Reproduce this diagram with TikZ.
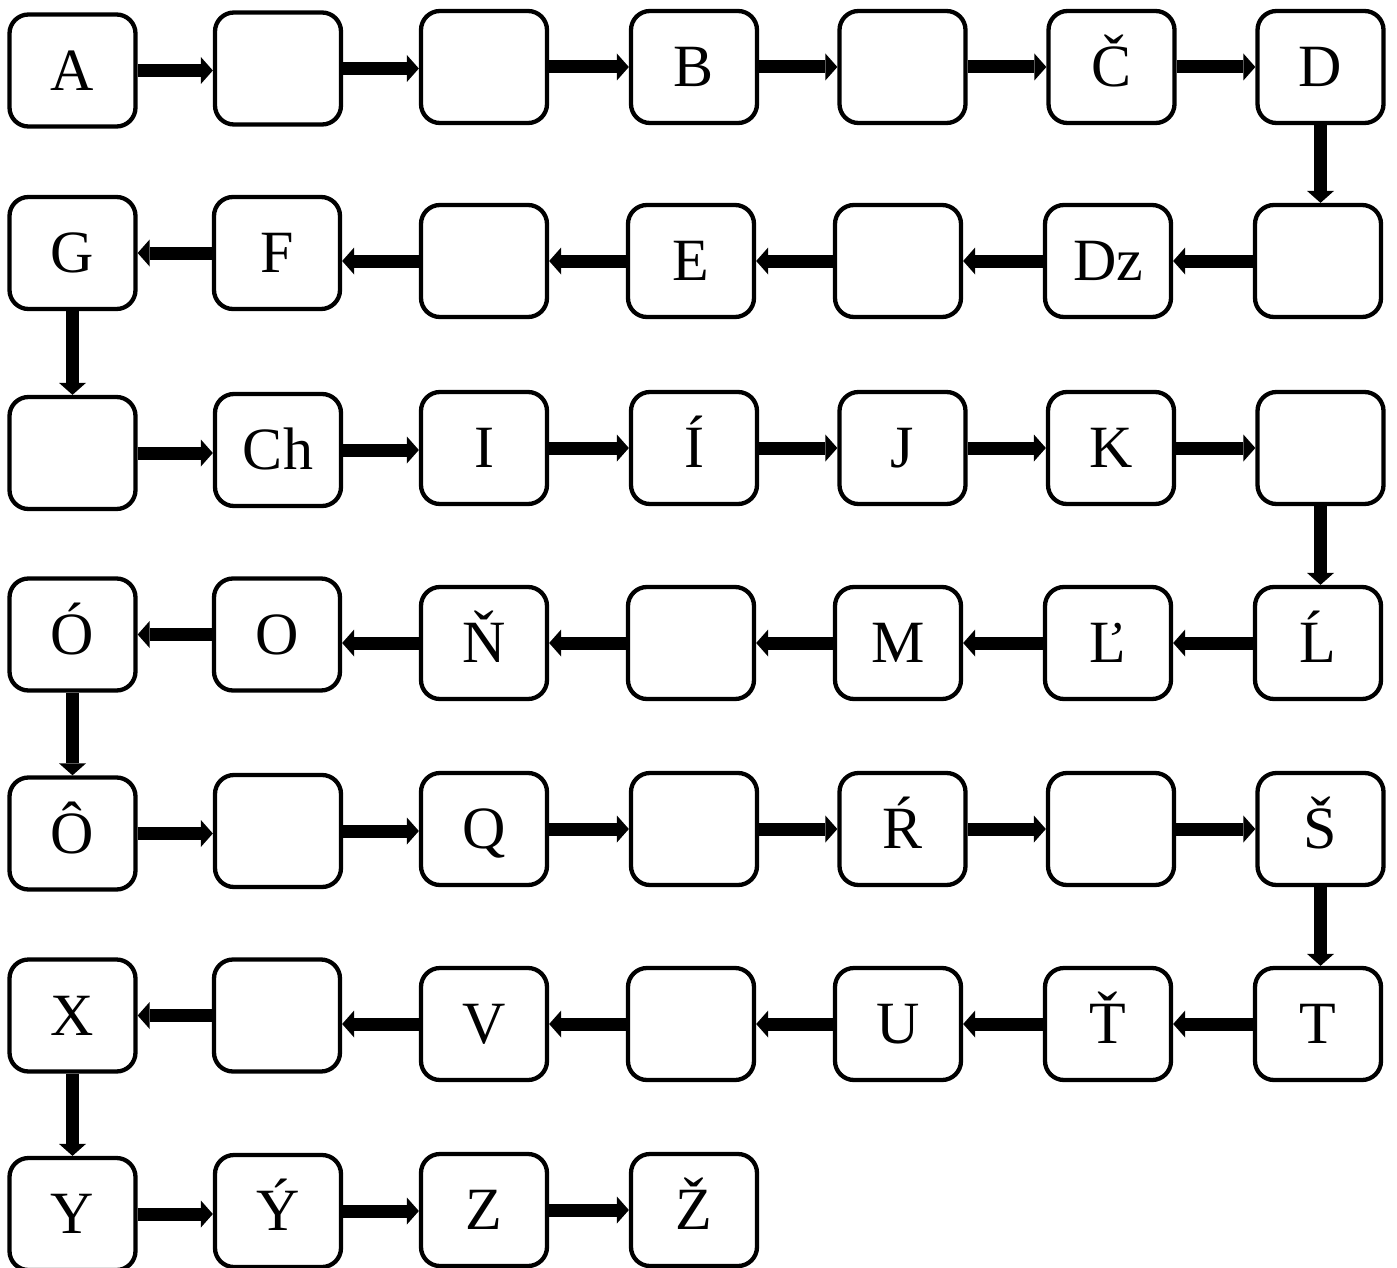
\documentclass[tikz,border=0pt]{standalone}
\usepackage{fontspec}
\setmainfont{Liberation Serif}
\usetikzlibrary{arrows.meta}

\tikzset{
	box/.style={draw, line width=4.3pt, rounded corners=19pt, fill=white,
		minimum width=126pt, minimum height=112pt, inner sep=0pt,
		text height=39.7pt, text depth=0pt,
		font=\fontsize{60pt}{72pt}\selectfont},
	arr/.style={line width=13pt, -{Triangle[width=27pt,length=12pt,line width=0pt]}}
}

\begin{document}
\begin{tikzpicture}[x=1pt, y=-1pt]
		\useasboundingbox (0,0) rectangle (1397,1268);
		% row 1
		\foreach \n/\x/\y/\t in {11/72.5/70.5/A, 12/278/68.5/, 13/484/67/, 14/694/67/B,
			15/902.5/67/, 16/1111.5/67/Č, 17/1320.5/67/D}
		\node[box] (n\n) at (\x,\y) {\t};
		% row 2
		\foreach \n/\x/\y/\t in {21/72.5/253/G, 22/277/253/F, 23/484/261/, 24/691/261/E,
			25/898/261/, 26/1108/261/Dz, 27/1318/261/}
		\node[box] (n\n) at (\x,\y) {\t};
		% row 3
		\foreach \n/\x/\y/\t in {31/72.5/453/, 32/278/450/Ch, 33/484/448/I, 34/694/448/Í,
			35/902.5/448/J, 36/1111/448/K, 37/1320.5/448/}
		\node[box] (n\n) at (\x,\y) {\t};
		% row 4
		\foreach \n/\x/\y/\t in {41/72.5/634.5/Ó, 42/277/634.5/O, 43/484/643/Ň, 44/691/643/,
			45/898/643/M, 46/1108/643/Ľ, 47/1318/643/Ĺ}
		\node[box] (n\n) at (\x,\y) {\t};
		% row 5
		\foreach \n/\x/\y/\t in {51/72.5/833.5/Ô, 52/278/831/, 53/484/829/Q, 54/694/829/,
			55/902.5/829/Ŕ, 56/1111/829/, 57/1320.5/829/Š}
		\node[box] (n\n) at (\x,\y) {\t};
		% row 6
		\foreach \n/\x/\y/\t in {61/72.5/1015.5/X, 62/277/1015.5/, 63/484/1024/V, 64/691/1024/,
			65/898/1024/U, 66/1108/1024/Ť, 67/1318/1024/T}
		\node[box] (n\n) at (\x,\y) {\t};
		% row 7
		\foreach \n/\x/\y/\t in {71/72.5/1214/Y, 72/278/1211/Ý, 73/484/1210/Z, 74/694/1210/Ž}
		\node[box] (n\n) at (\x,\y) {\t};

		% left to right
		\foreach \a/\b in {11/12, 12/13, 13/14, 14/15, 15/16, 16/17,
			31/32, 32/33, 33/34, 34/35, 35/36, 36/37,
			51/52, 52/53, 53/54, 54/55, 55/56, 56/57,
			71/72, 72/73, 73/74}
		\draw[arr] (n\a) -- (n\a -| n\b.west);
		% right to left
		\foreach \a/\b in {27/26, 26/25, 25/24, 24/23, 23/22, 22/21,
			47/46, 46/45, 45/44, 44/43, 43/42, 42/41,
			67/66, 66/65, 65/64, 64/63, 63/62, 62/61}
		\draw[arr] (n\a) -- (n\a -| n\b.east);
		% down
		\foreach \a/\b in {17/27, 21/31, 37/47, 41/51, 57/67, 61/71}
		\draw[arr] (n\a) -- (n\a |- n\b.north);
	\end{tikzpicture}
\end{document}
